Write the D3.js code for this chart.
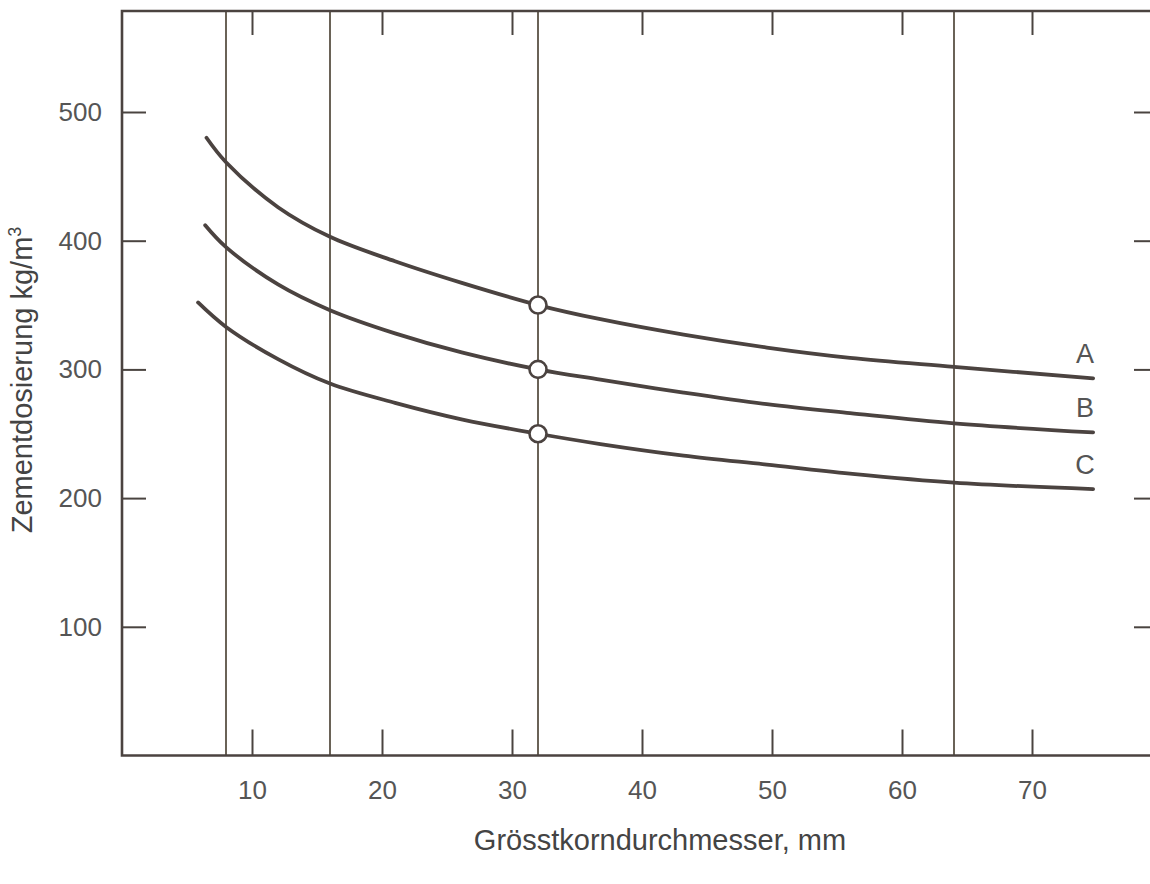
<!DOCTYPE html>
<html>
<head>
<meta charset="utf-8">
<script src="https://cdn.jsdelivr.net/npm/d3@7"></script>
<style>
	body { margin: 0; background: #fff; }
	svg { display: block; }
	.tick text { font-family: "Liberation Sans", Arial, sans-serif; font-size: 26px; fill: #555; }
	.tick line { stroke: #4a4440; stroke-width: 2; }
</style>
</head>
<body>
<svg></svg>
<script>

// Grösstkorndurchmesser (mm) where each curve was read
const xA = [6.5, 8, 12, 16, 21, 26.2, 32, 36.8, 43.2, 49.6, 56, 64, 74.7];
const xB = [6.4, 8, 12, 16, 21, 26.2, 32, 36.8, 43.2, 49.6, 56, 64, 74.7];
const xC = [5.85, 8, 12, 16, 21, 26.2, 32, 36.8, 43.2, 49.6, 56, 64, 74.7];

// Zementdosierung kg/m3
const yA = [480, 461, 426, 403, 384, 367, 350, 339, 327, 317, 309, 302, 293];
const yB = [412, 395, 366, 346, 328, 313, 300, 292, 282, 273, 266, 258, 251];
const yC = [352, 333, 308, 289, 274, 261, 250, 242, 233, 226, 219, 212, 207];

const seriesNames = ['A', 'B', 'C'];
const markX = 32;
const markValues = [350, 300, 250];
const refLines = [8, 16, 32, 64];
const xTicks = [10, 20, 30, 40, 50, 60, 70];
const yTicks = [100, 200, 300, 400, 500];

const W = 1150, H = 884;
const svg = d3.select('svg').attr('width', W).attr('height', H);

const x = d3.scaleLinear().domain([0, 80]).range([122, 1162]);
const y = d3.scaleLinear().domain([0, 500]).range([755.5, 112]);
const frameTop = 11, frameBottom = 755.5, frameLeft = 122;

const ink = '#4b4340';
const font = '"Liberation Sans", Arial, sans-serif';

//Reference verticals
svg.append('g').selectAll('line').data(refLines).join('line')
	.attr('x1', d => x(d)).attr('x2', d => x(d))
	.attr('y1', frameTop).attr('y2', frameBottom)
	.attr('stroke', '#5a5245').attr('stroke-width', 1.8);

//Ticks, all pointing inward
svg.append('g').attr('transform', 'translate(0,' + frameBottom + ')')
	.call(d3.axisBottom(x).tickValues(xTicks).tickSize(-26).tickPadding(34))
	.call(g => g.select('.domain').remove())
	.call(g => g.selectAll('text').attr('dy', '0.35em'));

svg.append('g').attr('transform', 'translate(0,' + frameTop + ')')
	.call(d3.axisTop(x).tickValues(xTicks).tickSize(-24).tickFormat(''))
	.call(g => g.select('.domain').remove());

svg.append('g').attr('transform', 'translate(' + frameLeft + ',0)')
	.call(d3.axisLeft(y).tickValues(yTicks).tickSize(-24).tickPadding(20))
	.call(g => g.select('.domain').remove());

svg.append('g').attr('transform', 'translate(1150,0)')
	.call(d3.axisRight(y).tickValues(yTicks).tickSize(-16).tickFormat(''))
	.call(g => g.select('.domain').remove());

//Frame (right side runs off the page)
svg.append('path')
	.attr('d', 'M' + W + ',' + frameTop + 'H' + frameLeft + 'V' + frameBottom + 'H' + W)
	.attr('fill', 'none').attr('stroke', ink).attr('stroke-width', 2.6);

//Curves
const line = d3.line().x(d => x(d[0])).y(d => y(d[1])).curve(d3.curveCatmullRom.alpha(0.5));
const curves = [d3.zip(xA, yA), d3.zip(xB, yB), d3.zip(xC, yC)];

svg.append('g').selectAll('path').data(curves).join('path')
	.attr('d', line)
	.attr('fill', 'none').attr('stroke', ink).attr('stroke-width', 3.8)
	.attr('stroke-linecap', 'round');

//Curve names
svg.append('g').selectAll('text').data(curves).join('text')
	.attr('x', d => x(d[d.length - 1][0]) - 8)
	.attr('y', d => y(d[d.length - 1][1]) - 15)
	.attr('text-anchor', 'middle')
	.style('font-family', font)
	.style('font-size', '27px').style('fill', '#555')
	.text((d, i) => seriesNames[i]);

//Circles at 32 mm
svg.append('g').selectAll('circle').data(markValues).join('circle')
	.attr('cx', x(markX)).attr('cy', d => y(d)).attr('r', 8.5)
	.attr('fill', '#fff').attr('stroke', ink).attr('stroke-width', 2.6);

//Axis titles
svg.append('text')
	.attr('x', 660).attr('y', 850)
	.attr('text-anchor', 'middle')
	.style('font-family', font)
	.style('font-size', '29px').style('fill', '#444')
	.text('Grösstkorndurchmesser, mm');

const yl = svg.append('text')
	.attr('transform', 'translate(32,380) rotate(-90)')
	.attr('text-anchor', 'middle')
	.style('font-family', font)
	.style('font-size', '29px').style('fill', '#444');
yl.append('tspan').text('Zementdosierung kg/m');
yl.append('tspan').attr('dy', -11).style('font-size', '18px').text('3');

</script>
</body>
</html>
